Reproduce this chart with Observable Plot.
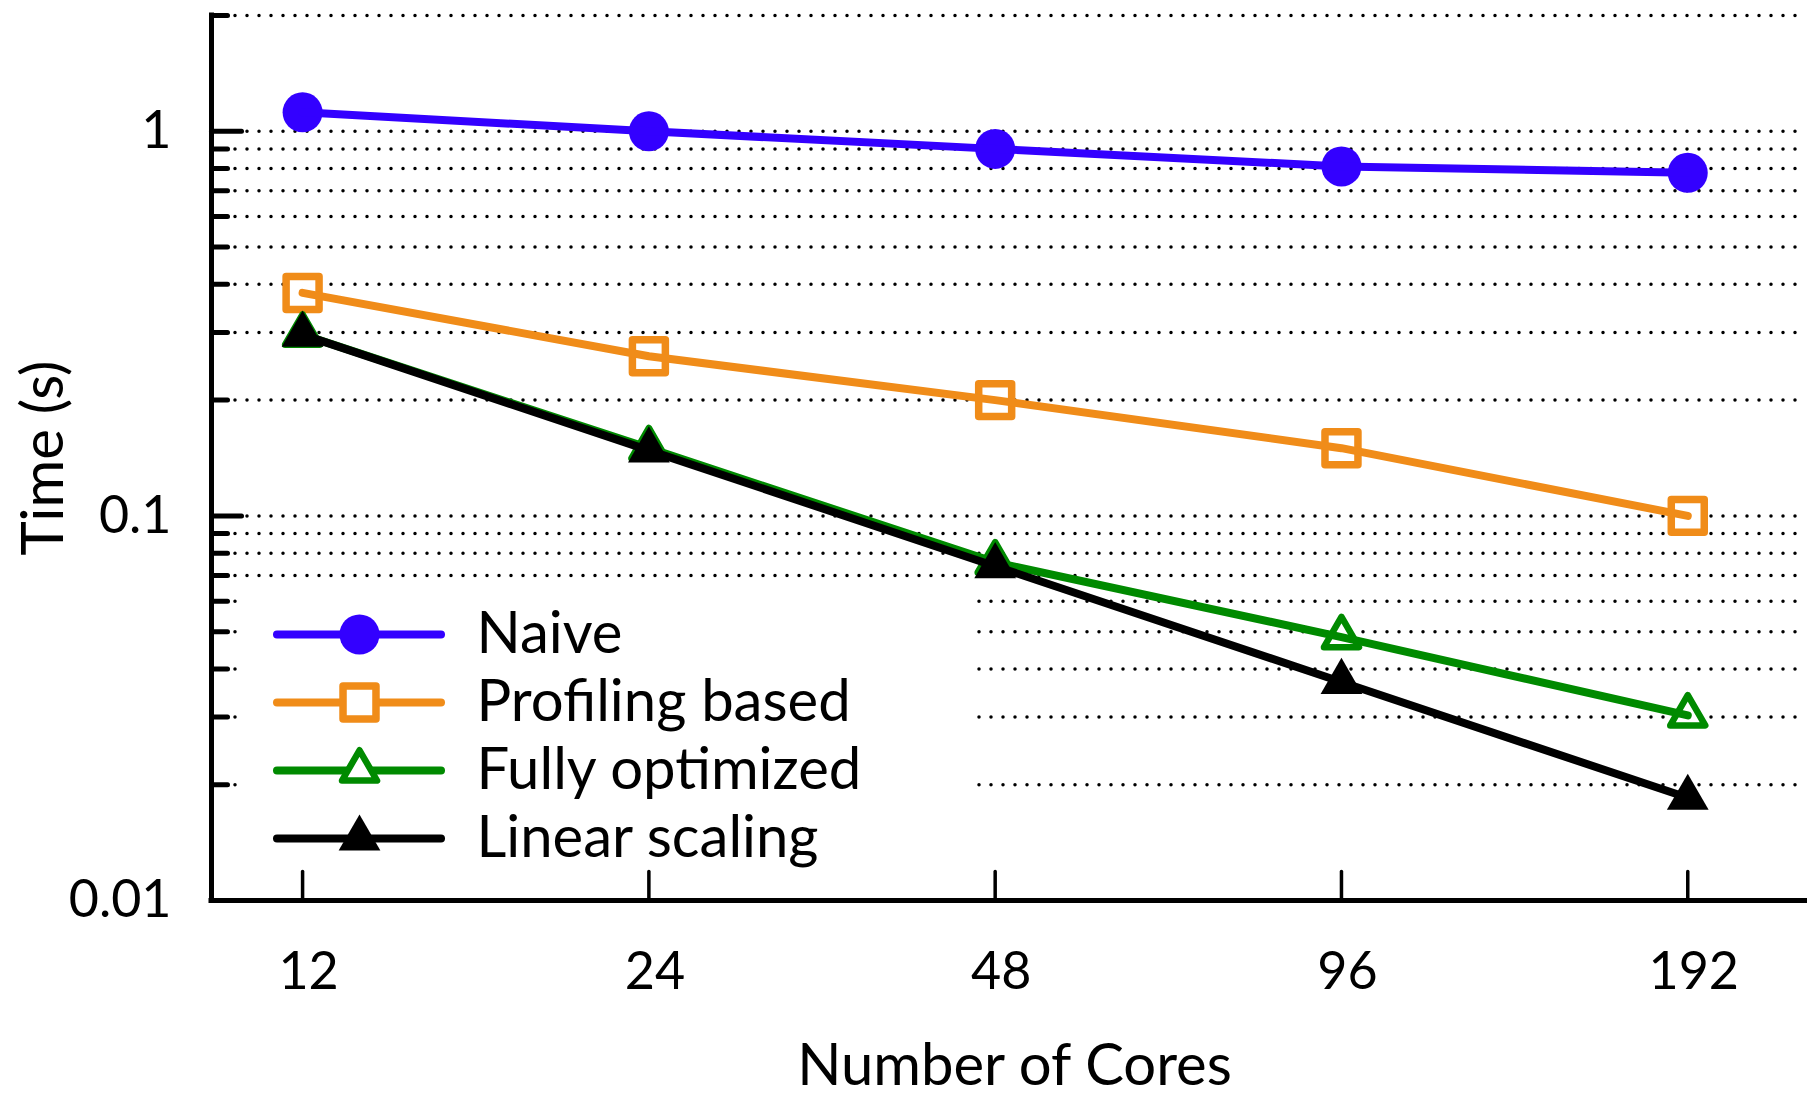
<!DOCTYPE html>
<html>
<head>
<meta charset="utf-8">
<script src="https://cdn.jsdelivr.net/npm/d3@7"></script>
<script src="https://cdn.jsdelivr.net/npm/@observablehq/plot@0.6"></script>
<style>
  html, body { margin: 0; padding: 0; background: #fff; }
  #wrap { position: relative; width: 1807px; height: 1098px; overflow: hidden; }
  #legend { position: absolute; left: 238px; top: 588px; }
  text { font-family: Lato, "Noto Sans", sans-serif; font-weight: 400; }
</style>
</head>
<body>
<div id="wrap"></div>
<script>
// ---- data ----
const cores = [12, 24, 48, 96, 192];
const naive = [1.12, 1.0, 0.90, 0.81, 0.78];
const profiling = [0.38, 0.26, 0.20, 0.15, 0.10];
const fullyOptimized = [0.296, 0.150, 0.0757, 0.0484, 0.0303];
const linearScaling = [0.296, 0.148, 0.074, 0.037, 0.0185];

const seriesNames = ["Naive", "Profiling based", "Fully optimized", "Linear scaling"];
const seriesValues = [naive, profiling, fullyOptimized, linearScaling];
const seriesColors = ["#3300ff", "#f08c19", "#008a00", "#000000"];
const seriesSymbols = ["circle", "square", "triangle", "triangle"];
const seriesFills = ["#3300ff", "#ffffff", "#ffffff", "#000000"];

const yTickLabels = [0.01, 0.1, 1];
const yMajorTicks = [0.1, 1];
const yMinorTicks = [0.02, 0.03, 0.04, 0.05, 0.06, 0.07, 0.08, 0.09, 0.2, 0.3, 0.4, 0.5, 0.6, 0.7, 0.8, 0.9, 2];
const yGrid = [0.02, 0.03, 0.04, 0.05, 0.06, 0.07, 0.08, 0.09, 0.1, 0.2, 0.3, 0.4, 0.5, 0.6, 0.7, 0.8, 0.9, 1, 2];
const xDomain = [10, 244];
const yDomain = [0.01, 2];

// ---- marks ----
const tickShape = { draw(context, l) { context.moveTo(0, 0); context.lineTo(0, -l); } };
function symbolR(i) {
  const sym = seriesSymbols[i];
  return sym === "circle" ? 20 : sym === "square" ? 18.6 : (seriesFills[i] === "#000000" ? 15.5 : 13);
}

const marks = [
  Plot.ruleY(yGrid, { y: d => d, stroke: "black", strokeWidth: 3.5, strokeDasharray: "0,12", strokeLinecap: "round" })
];

seriesNames.forEach((name, i) => {
  const rows = cores.map((c, j) => ({ cores: c, time: seriesValues[i][j] }));
  const sym = seriesSymbols[i];
  marks.push(Plot.dot(rows, {
    x: "cores", y: "time", symbol: () => sym, r: symbolR(i),
    fill: seriesFills[i],
    stroke: seriesFills[i] === seriesColors[i] ? "none" : seriesColors[i],
    strokeWidth: sym === "square" ? 7.5 : 6.5, strokeLinejoin: "round"
  }));
  marks.push(Plot.line(rows, {
    x: "cores", y: "time", stroke: seriesColors[i], strokeWidth: 8,
    strokeLinecap: "round", strokeLinejoin: "round"
  }));
});

marks.push(
  Plot.ruleX([xDomain[0]], { x: d => d, y1: yDomain[0], y2: yDomain[1], stroke: "black", strokeWidth: 5, strokeLinecap: "square" }),
  Plot.ruleY([yDomain[0]], { y: d => d, stroke: "black", strokeWidth: 5, strokeLinecap: "square" }),
  Plot.vector(yMajorTicks, { y: d => d, frameAnchor: "left", length: 30, rotate: 90, anchor: "start", shape: tickShape, stroke: "black", strokeWidth: 5 }),
  Plot.vector(yMinorTicks, { y: d => d, frameAnchor: "left", length: 16, rotate: 90, anchor: "start", shape: tickShape, stroke: "black", strokeWidth: 5 }),
  Plot.vector(cores, { x: d => d, frameAnchor: "bottom", length: 29, rotate: 0, anchor: "start", shape: tickShape, stroke: "black", strokeWidth: 3.5 }),
  Plot.text(yTickLabels, { y: d => d, text: d => String(d), frameAnchor: "left", dx: -40, textAnchor: "end", lineAnchor: "middle", fontSize: 52, fill: "black" }),
  Plot.text(cores, { x: d => d, text: d => String(d), frameAnchor: "bottom", dx: 6, dy: 72, textAnchor: "middle", lineAnchor: "middle", fontSize: 52, fill: "black" }),
  Plot.text(["Number of Cores"], { text: d => d, frameAnchor: "bottom", dx: 5, dy: 166, textAnchor: "middle", lineAnchor: "middle", fontSize: 58, fill: "black" }),
  Plot.text(["Time (s)"], { text: d => d, frameAnchor: "left", dx: -167, rotate: -90, textAnchor: "middle", lineAnchor: "middle", fontSize: 58, fill: "black" })
);

const chart = Plot.plot({
  width: 1807, height: 1098,
  marginLeft: 211, marginRight: 0, marginTop: 15, marginBottom: 198,
  x: { type: "log", base: 2, domain: xDomain, axis: null },
  y: { type: "log", domain: yDomain, axis: null },
  style: { background: "white", overflow: "visible" },
  marks
});

// ---- legend (separate small plot on a white box) ----
const legendMarks = [];
seriesNames.forEach((name, i) => {
  const sym = seriesSymbols[i];
  legendMarks.push(Plot.ruleY([name], { y: d => d, x1: 0, x2: 1, stroke: seriesColors[i], strokeWidth: 8, strokeLinecap: "round" }));
  legendMarks.push(Plot.dot([name], {
    y: d => d, x: () => 0.5, symbol: () => sym, r: symbolR(i),
    fill: seriesFills[i],
    stroke: seriesFills[i] === seriesColors[i] ? "none" : seriesColors[i],
    strokeWidth: sym === "square" ? 7.5 : 6.5, strokeLinejoin: "round"
  }));
  legendMarks.push(Plot.text([name], { y: d => d, x: () => 1, text: d => d, dx: 35, textAnchor: "start", lineAnchor: "middle", fontSize: 58, fill: "black" }));
});

const legend = Plot.plot({
  width: 737, height: 278,
  marginLeft: 39, marginRight: 534, marginTop: 45, marginBottom: 27,
  x: { domain: [0, 1], axis: null },
  y: { type: "point", domain: seriesNames, padding: 0, axis: null },
  style: { background: "white", overflow: "visible" },
  marks: legendMarks
});
legend.id = "legend";

const wrap = document.getElementById("wrap");
wrap.appendChild(chart);
wrap.appendChild(legend);
</script>
</body>
</html>
